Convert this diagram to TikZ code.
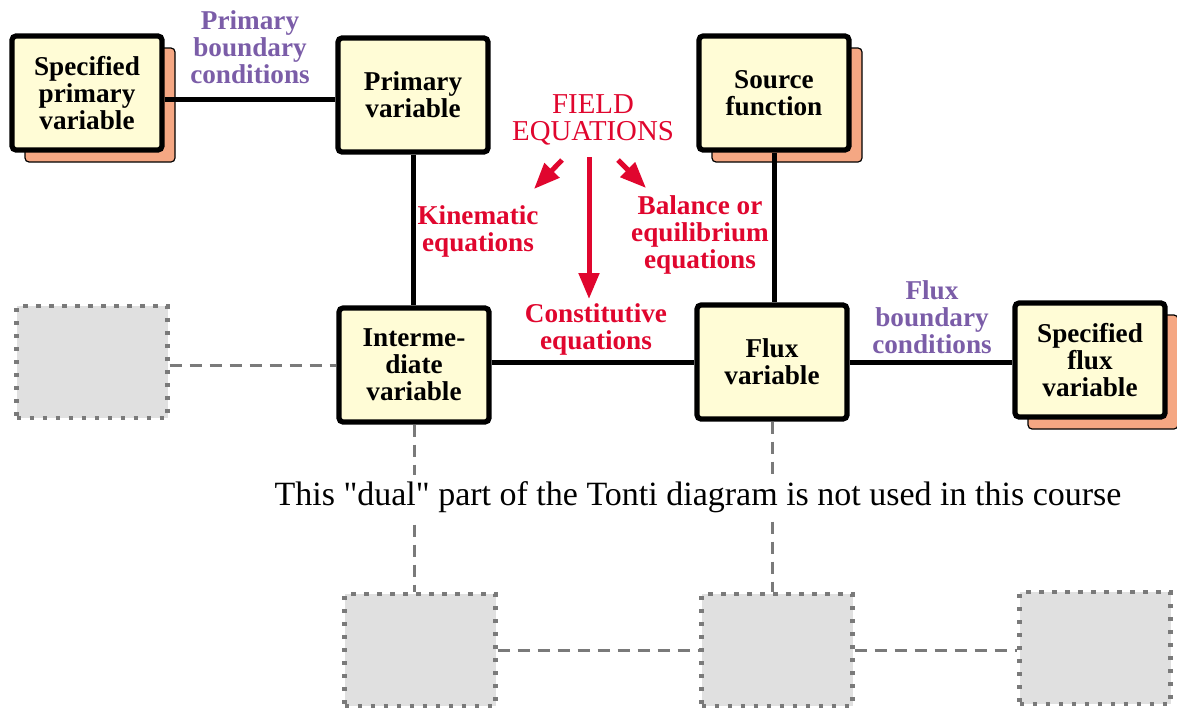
\documentclass[tikz,border=0pt]{standalone}
\usepackage{fontspec}
\setmainfont{Liberation Serif}
\newfontfamily\dualfont{Liberation Serif}[Ligatures=TeXOff]
\usetikzlibrary{arrows.meta,shadows}
\definecolor{boxyellow}{HTML}{FFFCD6}
\definecolor{shadowsalmon}{HTML}{F5A783}
\definecolor{bcpurple}{HTML}{7B5DA8}
\definecolor{eqred}{HTML}{E0062E}
\definecolor{dualfill}{HTML}{E0E0E0}
\definecolor{dualline}{HTML}{7A7A7A}
\begin{document}
\begin{tikzpicture}[
		x=0.5pt,y=-0.5pt,
		>={Triangle[length=13pt,width=10pt]},
		line join=miter,
		varbox/.style={draw,line width=2.6pt,rounded corners=2pt,fill=boxyellow,
			minimum width=75pt,minimum height=57pt,inner sep=0pt,align=center,
			font=\fontsize{13.6pt}{13.5pt}\selectfont\bfseries},
		shadowed/.style={general shadow={fill=shadowsalmon,draw=black,line width=0.6pt,
			rounded corners=0pt,shadow xshift=6.5pt,shadow yshift=-6pt}},
		dualbox/.style={draw=dualline,fill=dualfill,line width=2.2pt,dash pattern=on 2.2pt off 4.3pt,
			minimum width=75.5pt,minimum height=56pt},
		link/.style={line width=2.5pt},
		duallink/.style={draw=dualline,line width=1.5pt,dash pattern=on 6pt off 4pt},
		bclabel/.style={text=bcpurple,align=center,font=\fontsize{13.6pt}{13.5pt}\selectfont\bfseries},
		eqlabel/.style={text=eqred,align=center,font=\fontsize{13.6pt}{13.5pt}\selectfont\bfseries},
		eqarrow/.style={->,draw=eqred,line width=2.5pt}
		]
		\useasboundingbox (0,0) rectangle (1177,712);
		% primary side
		\node[varbox,shadowed] (spv) at (87,93) {Specified\\primary\\variable};
		\node[varbox] (pv) at (413,95) {Primary\\variable};
		\node[varbox] (im) at (414,365) {Interme-\\diate\\variable};
		% flux side
		\node[varbox,shadowed] (src) at (774,93) {Source\\function};
		\node[varbox] (flux) at (772,362) {Flux\\variable};
		\node[varbox,shadowed] (sfv) at (1090,360) {Specified\\flux\\variable};
		% dual part
		\node[dualbox] (g1) at (92,362) {};
		\node[dualbox] (g2) at (420,650) {};
		\node[dualbox] (g3) at (777,650) {};
		\node[dualbox] (g4) at (1095,648) {};
		\draw[duallink] (g1.east |- im.west) -- (im.west);
		\draw[duallink] (im.south) -- (im.south |- g2.north);
		\draw[duallink] (flux.south) -- (flux.south |- g3.north);
		\draw[duallink] (g2.east) -- (g3.west);
		\draw[duallink] (g3.east) -- (g3.east -| g4.west);
		\node[fill=white,inner sep=3pt,font=\dualfont\fontsize{17pt}{20pt}\selectfont] (dual) at (698,497)
			{This "dual" part of the Tonti diagram is not used in this course};
		% connectors
		\draw[link] ([yshift=-3pt]spv.east) -- ([yshift=-3pt]spv.east -| pv.west);
		\draw[link] (pv.south) -- (pv.south |- im.north);
		\draw[link] (src.south) -- (src.south |- flux.north);
		\draw[link] (im.east |- flux.west) -- (flux.west);
		\draw[link] (flux.east) -- (flux.east -| sfv.west);
		% labels
		\node[bclabel] (pbc) at (250,47) {Primary\\boundary\\conditions};
		\node[bclabel] (fbc) at (932,317) {Flux\\boundary\\conditions};
		\node[text=eqred,align=center,font=\fontsize{14.4pt}{13.5pt}\selectfont] (fe) at (593,120) {FIELD\\EQUATIONS};
		\node[eqlabel] (kin) at (478,231) {Kinematic\\equations};
		\node[eqlabel] (bal) at (700,235) {Balance or\\equilibrium\\equations};
		\node[eqlabel] (con) at (596,329) {Constitutive\\equations};
		\coordinate (fe left) at (562,160);
		\coordinate (fe mid) at (589,157);
		\coordinate (fe right) at (618,160);
		\coordinate (kin tip) at (534,189);
		\coordinate (con tip) at (589,299);
		\coordinate (bal tip) at (646,188);
		\draw[eqarrow] (fe left) -- (kin tip);
		\draw[eqarrow] (fe mid) -- (con tip);
		\draw[eqarrow] (fe right) -- (bal tip);
		\end{tikzpicture}
\end{document}
